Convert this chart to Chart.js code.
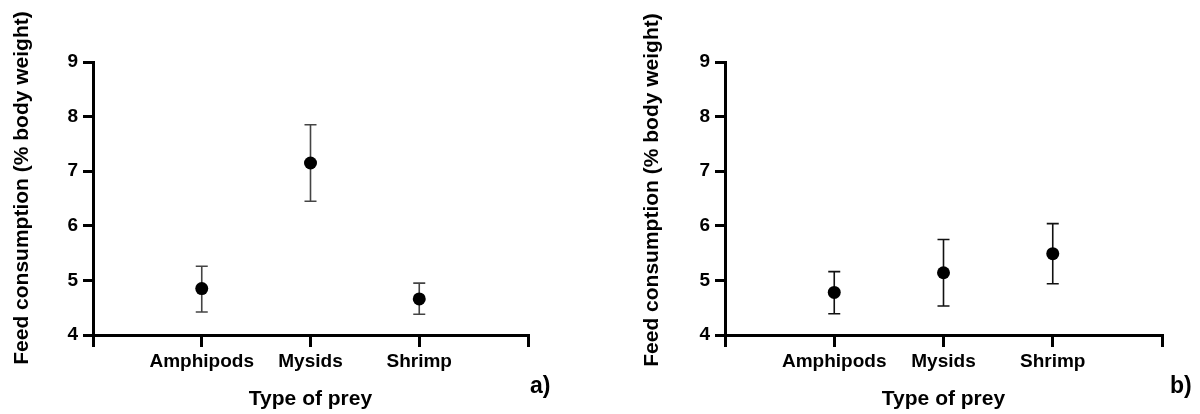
<!DOCTYPE html>
<html>
<head>
<meta charset="utf-8">
<script src="https://cdn.jsdelivr.net/npm/chart.js@4.4.1/dist/chart.umd.min.js"></script>
<style>
  body { margin: 0; background: #fff; }
  .panel { position: absolute; top: 0; width: 600px; height: 414px; }
</style>
</head>
<body>
<div class="panel" style="left:0"><canvas id="chartA" width="600" height="414"></canvas></div>
<div class="panel" style="left:600px"><canvas id="chartB" width="600" height="414"></canvas></div>
<script>
// ================================================
// DATA
// ================================================
const categories = ['Amphipods', 'Mysids', 'Shrimp'];
const xPositions = [0, 1, 2, 3, 4];
const yTicks = [4, 5, 6, 7, 8, 9];

// panel a)
const meanA = [4.85, 7.15, 4.66];
const lowA = [4.42, 6.45, 4.38];
const highA = [5.26, 7.85, 4.95];

// panel b)
const meanB = [4.78, 5.14, 5.49];
const lowB = [4.39, 4.53, 4.94];
const highB = [5.16, 5.75, 6.04];

const yTitle = 'Feed consumption (% body weight)';
const xTitle = 'Type of prey';

const FONT = '"Liberation Sans", Arial, sans-serif';
Chart.defaults.font.family = FONT;
Chart.defaults.color = '#000';
Chart.defaults.animation = false;

// error bars drawn under the points
const errorBars = {
    id: 'errorBars',
    beforeDatasetsDraw(chart, args, opts) {
        const { ctx, scales: { x, y } } = chart;
        ctx.save();
        ctx.strokeStyle = opts.color;
        ctx.lineWidth = opts.width;
        opts.low.forEach((lo, i) => {
            const px = x.getPixelForValue(i + 1);
            const yl = y.getPixelForValue(lo);
            const yh = y.getPixelForValue(opts.high[i]);
            ctx.beginPath();
            ctx.moveTo(px, yl); ctx.lineTo(px, yh);
            ctx.moveTo(px - opts.cap, yl); ctx.lineTo(px + opts.cap, yl);
            ctx.moveTo(px - opts.cap, yh); ctx.lineTo(px + opts.cap, yh);
            ctx.stroke();
        });
        ctx.restore();
    }
};

// rotated y title + panel letter
const panelText = {
    id: 'panelText',
    afterDraw(chart, args, opts) {
        const { ctx } = chart;
        ctx.save();
        ctx.fillStyle = '#000';
        ctx.font = 'bold 21px ' + FONT;
        ctx.textAlign = 'center';
        ctx.textBaseline = 'middle';
        ctx.translate(opts.titleX, opts.titleY);
        ctx.rotate(-Math.PI / 2);
        ctx.fillText(yTitle, 0, 0);
        ctx.restore();

        ctx.save();
        ctx.fillStyle = '#000';
        ctx.font = 'bold 23px ' + FONT;
        ctx.textAlign = 'left';
        ctx.textBaseline = 'middle';
        ctx.fillText(opts.letter, opts.letterX, opts.letterY);
        ctx.restore();
    }
};

function createPanel(id, mean, low, high, look) {
    return new Chart(document.getElementById(id), {
        type: 'scatter',
        data: {
            datasets: [{
                data: mean.map((v, i) => ({ x: i + 1, y: v })),
                pointRadius: 6.5,
                pointBackgroundColor: '#000',
                pointBorderColor: '#000',
                pointBorderWidth: 0,
                showLine: false
            }]
        },
        options: {
            responsive: false,
            events: [],
            layout: { padding: { top: 62, right: 600 - look.right, bottom: 0, left: 0 } },
            plugins: {
                legend: { display: false },
                tooltip: { enabled: false },
                errorBars: { low, high, color: look.barColor, width: 1.6, cap: 6 },
                panelText: look.text
            },
            scales: {
                x: {
                    type: 'linear',
                    min: 0,
                    max: 4,
                    afterBuildTicks: s => { s.ticks = xPositions.map(v => ({ value: v })); },
                    afterFit: s => { s.height = 414 - 335; },
                    ticks: {
                        callback: v => categories[v - 1] || '',
                        font: { size: 19, weight: 'bold' },
                        color: '#000',
                        padding: 3,
                        maxRotation: 0,
                        autoSkip: false
                    },
                    grid: { drawOnChartArea: false, drawTicks: true, tickLength: 12, color: '#000', lineWidth: 3 },
                    border: { display: true, color: '#000', width: 3 },
                    title: { display: true, text: xTitle, font: { size: 21, weight: 'bold' }, color: '#000', padding: { top: 0, bottom: 2 } }
                },
                y: {
                    min: 4,
                    max: 9,
                    afterBuildTicks: s => { s.ticks = yTicks.map(v => ({ value: v })); },
                    afterFit: s => { s.width = look.left; },
                    ticks: {
                        font: { size: 19, weight: 'bold' },
                        color: '#000',
                        padding: 5
                    },
                    grid: { drawOnChartArea: false, drawTicks: true, tickLength: 10, color: '#000', lineWidth: 3 },
                    border: { display: true, color: '#000', width: 3 }
                }
            }
        },
        plugins: [errorBars, panelText]
    });
}

const chartA = createPanel('chartA', meanA, lowA, highA, {
    left: 93, right: 528, barColor: '#444',
    text: { titleX: 22, titleY: 188, letter: 'a)', letterX: 530, letterY: 387 }
});
const chartB = createPanel('chartB', meanB, lowB, highB, {
    left: 125, right: 562, barColor: '#111',
    text: { titleX: 52, titleY: 190, letter: 'b)', letterX: 570, letterY: 387 }
});
</script>
</body>
</html>
